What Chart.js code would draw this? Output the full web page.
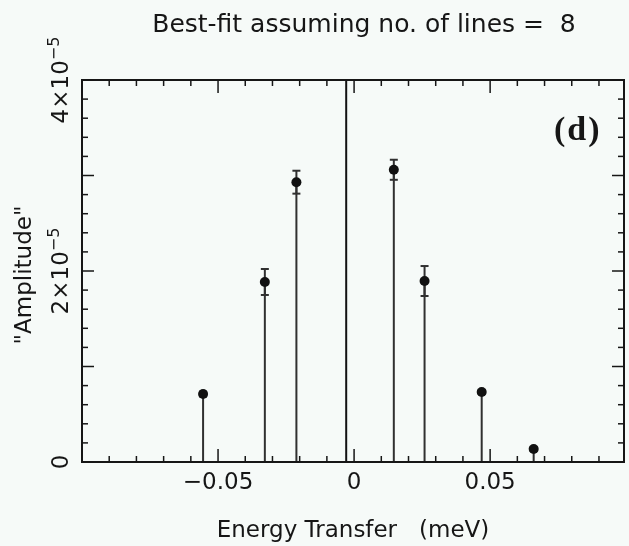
<!DOCTYPE html>
<html>
<head>
<meta charset="utf-8">
<script src="https://cdn.jsdelivr.net/npm/chart.js@4.4.1/dist/chart.umd.min.js"></script>
<style>
    html, body { margin: 0; padding: 0; background: #f6faf8; }
    canvas { display: block; }
</style>
</head>
<body>
<canvas id="fitChart" width="629" height="546"></canvas>
<script>
// 拟合得到的谱线位置 (meV)、幅度和误差
const lineEnergy = [-0.0555, -0.0328, -0.0212, 0.0146, 0.0259, 0.0469, 0.0660];
const lineAmp = [0.712e-5, 1.885e-5, 2.93e-5, 3.06e-5, 1.895e-5, 0.733e-5, 0.136e-5];
const lineErr = [0.025e-5, 0.136e-5, 0.12e-5, 0.105e-5, 0.157e-5, 0.02e-5, 0.02e-5];
// 中心谱线（幅度超出坐标范围）
const centralEnergy = -0.0029;

// 刻度
const xTicks = [-0.05, 0, 0.05];
const yTicks = [0, 2e-5, 4e-5];
const yTickMantissa = ['0', '2×10', '4×10'];
const yTickExp = ['', '−5', '−5'];

const ink = '#161616';
const font = '"DejaVu Sans", sans-serif';

function seg(ctx, x1, y1, x2, y2) {
    ctx.beginPath();
    ctx.moveTo(x1, y1);
    ctx.lineTo(x2, y2);
    ctx.stroke();
}

const plotDecor = {
    id: 'plotDecor',
    beforeDatasetsDraw(chart) {
        const { ctx, chartArea: a, scales: { x, y } } = chart;
        ctx.save();
        ctx.beginPath();
        ctx.rect(a.left, a.top, a.width, a.height);
        ctx.clip();

        // 中心线
        ctx.strokeStyle = '#121212';
        ctx.lineWidth = 2;
        const cx = x.getPixelForValue(centralEnergy);
        seg(ctx, cx, a.bottom, cx, a.top);

        // 谱线 + 误差棒
        ctx.strokeStyle = '#303030';
        lineEnergy.forEach((e, i) => {
            const px = x.getPixelForValue(e);
            seg(ctx, px, y.getPixelForValue(0), px, y.getPixelForValue(lineAmp[i]));
            const hi = y.getPixelForValue(lineAmp[i] + lineErr[i]);
            const lo = y.getPixelForValue(lineAmp[i] - lineErr[i]);
            seg(ctx, px, lo, px, hi);
            seg(ctx, px - 4, hi, px + 4, hi);
            seg(ctx, px - 4, lo, px + 4, lo);
        });
        ctx.restore();
    },
    afterDraw(chart) {
        const { ctx, chartArea: a, scales: { x, y } } = chart;
        ctx.save();
        ctx.strokeStyle = ink;
        ctx.fillStyle = ink;
        ctx.lineWidth = 2;
        ctx.strokeRect(a.left, a.top, a.width, a.height);

        // 内向刻度线
        ctx.lineWidth = 1.5;
        for (let k = -10; k <= 9; k++) {
            const px = x.getPixelForValue(k / 100);
            const len = k % 5 === 0 ? 13 : 6;
            seg(ctx, px, a.bottom, px, a.bottom - len);
            seg(ctx, px, a.top, px, a.top + len);
        }
        for (let k = 0; k <= 20; k++) {
            const py = y.getPixelForValue(k * 0.2e-5);
            const len = k % 5 === 0 ? 12 : 6;
            seg(ctx, a.left, py, a.left + len, py);
            seg(ctx, a.right, py, a.right - len, py);
        }

        // 标题
        ctx.font = '25px ' + font;
        ctx.textAlign = 'center';
        ctx.textBaseline = 'alphabetic';
        ctx.fillText('Best-fit assuming no. of lines =  8', 364, 32);

        // y 轴刻度标签（竖排）
        yTicks.forEach((v, i) => {
            const py = y.getPixelForValue(v);
            ctx.save();
            ctx.translate(68, py);
            ctx.rotate(-Math.PI / 2);
            ctx.textAlign = 'left';
            ctx.font = '23px ' + font;
            const mw = ctx.measureText(yTickMantissa[i]).width;
            ctx.font = '16px ' + font;
            const sw = yTickExp[i] ? ctx.measureText(yTickExp[i]).width : 0;
            const start = -(mw + sw) / 2;
            ctx.font = '23px ' + font;
            ctx.fillText(yTickMantissa[i], start, 0);
            if (yTickExp[i]) {
                ctx.font = '16px ' + font;
                ctx.fillText(yTickExp[i], start + mw, -9);
            }
            ctx.restore();
        });

        // y 轴标题
        ctx.save();
        ctx.translate(31, 275);
        ctx.rotate(-Math.PI / 2);
        ctx.font = '23px ' + font;
        ctx.textAlign = 'center';
        ctx.fillText('"Amplitude"', 0, 0);
        ctx.restore();

        // 面板标记
        ctx.font = 'bold 34px "Liberation Serif", serif';
        ctx.textAlign = 'left';
        ctx.letterSpacing = '2px';
        ctx.fillText('(d)', 554, 140);
        ctx.restore();
    }
};

new Chart(document.getElementById('fitChart'), {
    type: 'scatter',
    data: {
        datasets: [{
            data: lineEnergy.map((e, i) => ({ x: e, y: lineAmp[i] })),
            pointRadius: 5,
            pointBackgroundColor: '#111',
            pointBorderWidth: 0,
            showLine: false
        }]
    },
    options: {
        responsive: false,
        animation: false,
        events: [],
        layout: { padding: { left: 82, right: 1, top: 80, bottom: 0 } },
        plugins: {
            legend: { display: false },
            title: { display: false },
            tooltip: { enabled: false }
        },
        scales: {
            x: {
                type: 'linear',
                min: -0.1,
                max: 0.0992,
                grid: { display: false, drawTicks: false },
                border: { display: false },
                afterBuildTicks: s => { s.ticks = xTicks.map(v => ({ value: v })); },
                afterFit: s => { s.height = 84; },
                ticks: {
                    color: ink,
                    font: { family: 'DejaVu Sans', size: 23 },
                    padding: 7,
                    maxRotation: 0,
                    autoSkip: false,
                    callback: v => Math.abs(v) < 1e-9 ? '0' : (v < 0 ? '−' : '') + Math.abs(v).toFixed(2)
                },
                title: {
                    display: true,
                    text: 'Energy Transfer   (meV)',
                    color: ink,
                    font: { family: 'DejaVu Sans', size: 23 },
                    padding: { top: 0, bottom: 1 }
                }
            },
            y: {
                display: false,
                min: 0,
                max: 4e-5
            }
        }
    },
    plugins: [plotDecor]
});
</script>
</body>
</html>
